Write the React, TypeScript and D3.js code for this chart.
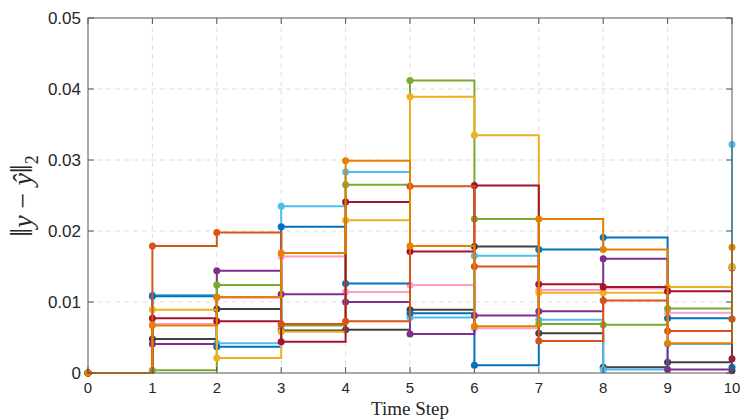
import React, { useEffect, useRef } from "react";
import * as d3 from "d3";

const steps = [0, 1, 2, 3, 4, 5, 6, 7, 8, 9, 10];
const xTicks = [0, 1, 2, 3, 4, 5, 6, 7, 8, 9, 10];
const yTicks = [0, 0.01, 0.02, 0.03, 0.04, 0.05];

// one run per colour, value at each time step
const pink = [0, 0.0069, 0.0106, 0.0164, 0.0114, 0.0124, 0.0063, 0.0117, 0.0119, 0.0085, 0.0076];
const gray = [0, 0.0048, 0.009, 0.006, 0.0061, 0.0089, 0.0178, 0.0056, 0.0008, 0.0015, 0.0003];
const lightBlue = [0, 0.011, 0.0042, 0.0235, 0.0283, 0.0078, 0.0165, 0.0075, 0.0005, 0.0041, 0.0322];
const blue = [0, 0.0108, 0.0037, 0.0206, 0.0126, 0.0084, 0.0011, 0.0174, 0.0191, 0.0077, 0.0008];
const purple = [0, 0.0041, 0.0144, 0.0111, 0.01, 0.0055, 0.0081, 0.0087, 0.0161, 0.0005, 0.0148];
const green = [0, 0.0004, 0.0124, 0.0067, 0.0265, 0.0412, 0.0217, 0.0069, 0.0068, 0.0091, 0.015];
const yellow = [0, 0.0089, 0.0021, 0.0058, 0.0215, 0.0389, 0.0335, 0.0113, 0.0113, 0.0121, 0.0149];
const darkRed = [0, 0.0077, 0.0073, 0.0044, 0.0241, 0.0171, 0.0264, 0.0125, 0.0121, 0.0115, 0.002];
const redOrange = [0, 0.0179, 0.0198, 0.0069, 0.0073, 0.0263, 0.015, 0.0045, 0.0102, 0.0059, 0.0076];
const orange = [0, 0.0067, 0.0107, 0.0169, 0.0299, 0.0179, 0.0066, 0.0217, 0.0174, 0.0042, 0.0177];

const series = [
  { values: pink, color: "#FF9CC8" },
  { values: gray, color: "#404040" },
  { values: lightBlue, color: "#4DBEEE" },
  { values: blue, color: "#0072BD" },
  { values: purple, color: "#7E2F8E" },
  { values: green, color: "#77AC30" },
  { values: yellow, color: "#EDB120" },
  { values: darkRed, color: "#A2142F" },
  { values: redOrange, color: "#D95319" },
  { values: orange, color: "#E68000" },
];

const App = () => {
  const ref = useRef<SVGSVGElement>(null);

  useEffect(() => {
    const width = 743;
    const height = 419;
    const left = 88, top = 18, right = 732, bottom = 373;

    const svg = d3.select(ref.current);
    svg.selectAll("*").remove();
    svg.attr("width", width).attr("height", height);

    const x = d3.scaleLinear().domain([0, 10]).range([left, right]);
    const y = d3.scaleLinear().domain([0, 0.05]).range([bottom, top]);

    // grid
    const grid = svg.append("g")
      .attr("stroke", "#dedede")
      .attr("stroke-width", 1)
      .attr("stroke-dasharray", "5,4");
    xTicks.slice(1, -1).forEach(t => {
      grid.append("line").attr("x1", x(t)).attr("x2", x(t)).attr("y1", top).attr("y2", bottom);
    });
    yTicks.slice(1, -1).forEach(t => {
      grid.append("line").attr("x1", left).attr("x2", right).attr("y1", y(t)).attr("y2", y(t));
    });

    // stairs
    const stairs = d3.line<number>()
      .x((d, i) => x(steps[i]))
      .y(d => y(d))
      .curve(d3.curveStepAfter);

    series.forEach(s => {
      svg.append("path")
        .attr("d", stairs(s.values))
        .attr("fill", "none")
        .attr("stroke", s.color)
        .attr("stroke-width", 2);
      svg.selectAll(null)
        .data(s.values)
        .enter()
        .append("circle")
        .attr("cx", (d, i) => x(steps[i]))
        .attr("cy", d => y(d))
        .attr("r", 3.5)
        .attr("fill", s.color);
    });

    // box and ticks
    const axisColor = "#262626";
    svg.append("rect")
      .attr("x", left).attr("y", top)
      .attr("width", right - left).attr("height", bottom - top)
      .attr("fill", "none").attr("stroke", "#555").attr("stroke-width", 1);

    const tk = svg.append("g").attr("stroke", "#555").attr("stroke-width", 1);
    xTicks.forEach(t => {
      tk.append("line").attr("x1", x(t)).attr("x2", x(t)).attr("y1", bottom).attr("y2", bottom - 6);
      tk.append("line").attr("x1", x(t)).attr("x2", x(t)).attr("y1", top).attr("y2", top + 6);
    });
    yTicks.forEach(t => {
      tk.append("line").attr("x1", left).attr("x2", left + 6).attr("y1", y(t)).attr("y2", y(t));
      tk.append("line").attr("x1", right).attr("x2", right - 6).attr("y1", y(t)).attr("y2", y(t));
    });

    svg.selectAll(".xl")
      .data(xTicks)
      .enter()
      .append("text")
      .attr("x", d => x(d))
      .attr("y", 382)
      .attr("dy", "0.71em")
      .attr("text-anchor", "middle")
      .attr("font-family", "Liberation Sans, Arial, sans-serif")
      .attr("font-size", "15px")
      .attr("fill", axisColor)
      .text(d => String(d));

    svg.selectAll(".yl")
      .data(yTicks)
      .enter()
      .append("text")
      .attr("x", 81)
      .attr("y", d => y(d))
      .attr("dy", "0.35em")
      .attr("text-anchor", "end")
      .attr("font-family", "Liberation Sans, Arial, sans-serif")
      .attr("font-size", "17px")
      .attr("fill", axisColor)
      .text(d => (d === 0 ? "0" : d3.format(".2f")(d)));

    svg.append("text")
      .attr("x", 410)
      .attr("y", 415)
      .attr("text-anchor", "middle")
      .attr("font-family", "Liberation Serif, Times New Roman, serif")
      .attr("font-size", "19px")
      .attr("fill", axisColor)
      .text("Time Step");

    const yl = svg.append("text")
      .attr("transform", "translate(32,196) rotate(-90)")
      .attr("text-anchor", "middle")
      .attr("font-family", "Liberation Serif, Times New Roman, serif")
      .attr("font-size", "28px")
      .attr("fill", axisColor);
    yl.append("tspan").attr("font-size", "32px").text("\u2016");
    yl.append("tspan").attr("font-style", "italic").text("y");
    yl.append("tspan").text(" \u2212 ");
    yl.append("tspan").attr("font-style", "italic").text("\u0177");
    yl.append("tspan").attr("font-size", "32px").text("\u2016");
    yl.append("tspan").attr("font-size", "18px").attr("dy", "6").text("2");
  }, []);

  return (
    <svg ref={ref} style={{ position: "absolute", left: 0, top: 0, background: "#fff" }}></svg>
  );
};

export default App;
